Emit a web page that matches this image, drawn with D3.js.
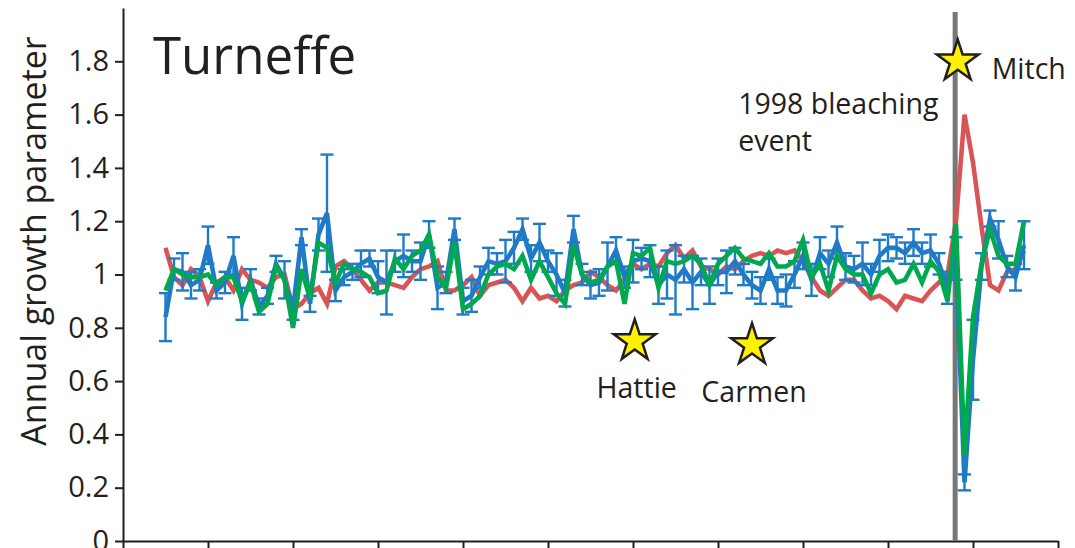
<!DOCTYPE html>
<html>
<head>
<meta charset="utf-8">
<script src="https://cdn.jsdelivr.net/npm/d3@7"></script>
<style>
  html, body { margin: 0; padding: 0; background: #fff; }
  svg { display: block; font-family: "Open Sans", sans-serif; }
  .axis path, .axis line { stroke: #231f20; stroke-width: 2; }
  .axis text { font-size: 29px; fill: #231f20; font-family: "Open Sans", sans-serif; }
  .series { fill: none; stroke-width: 4.6; stroke-linejoin: miter; }
  .note { font-size: 28.5px; fill: #231f20; }
</style>
</head>
<body>
<svg id="chart" width="1075" height="548"></svg>
<script>
/* ---------- data ---------- */
const firstYear = 1905, lastYear = 2006;
const years = d3.range(firstYear, lastYear + 1);

const xTicks = [1900, 1910, 1920, 1930, 1940, 1950, 1960, 1970, 1980, 1990, 2000, 2010];
const yTicks = [0, 0.2, 0.4, 0.6, 0.8, 1, 1.2, 1.4, 1.6, 1.8];

// red series
const redVals = [
  1.10, 0.99, 0.96, 1.02, 0.99, 0.90, 0.97, 0.99, 0.94, 1.02,
  0.98, 0.97, 0.95, 0.99, 1.00, 0.87, 0.89, 0.93, 0.95, 0.89,
  1.03, 1.05, 1.02, 0.98, 0.94, 0.97, 0.97, 0.96, 0.95, 0.99,
  1.02, 1.03, 1.05, 0.94, 0.94, 0.96, 0.99, 0.92, 0.96, 0.97,
  0.98, 0.95, 0.90, 0.95, 0.91, 0.92, 0.90, 0.94, 0.96, 0.97,
  1.01, 0.99, 0.96, 0.94, 0.98, 1.04, 1.02, 1.04, 1.03, 1.08,
  1.11, 1.06, 1.09, 1.03, 1.02, 1.00, 1.03, 1.02, 1.05, 1.07,
  1.08, 1.07, 1.09, 1.08, 1.09, 1.05, 0.99, 0.94, 0.92, 0.95,
  0.98, 0.98, 0.94, 0.91, 0.92, 0.90, 0.87, 0.92, 0.91, 0.90,
  0.94, 0.97, 1.00, 1.20, 1.60, 1.42, 1.18, 0.96, 0.94, 1.01,
  1.02, 1.09
];

// blue series (mean) and its error half-width
const blueVals = [
  0.84, 1.02, 1.01, 0.96, 0.98, 1.11, 0.94, 0.97, 1.07, 0.89,
  0.98, 0.88, 0.92, 1.04, 0.98, 0.87, 1.14, 0.89, 1.15, 1.23,
  0.94, 0.99, 1.01, 1.04, 1.06, 0.99, 0.97, 1.05, 1.07, 1.05,
  1.05, 1.15, 0.95, 0.97, 1.17, 0.90, 0.92, 0.99, 1.05, 1.04,
  1.05, 1.10, 1.17, 1.06, 1.12, 1.05, 1.00, 0.93, 1.17, 1.00,
  0.96, 0.97, 1.03, 1.09, 0.99, 1.05, 1.06, 1.05, 0.96, 1.00,
  0.98, 1.02, 0.97, 1.01, 0.96, 1.01, 1.01, 1.05, 1.00, 0.96,
  0.94, 1.02, 0.94, 0.94, 1.00, 1.07, 0.98, 1.08, 1.04, 1.12,
  1.03, 1.02, 1.04, 1.00, 1.07, 1.10, 1.10, 1.08, 1.12, 1.08,
  1.09, 1.04, 0.95, 1.06, 0.22, 0.68, 1.03, 1.21, 1.13, 1.03,
  0.99, 1.11
];
const blueErr = [
  0.09, 0.04, 0.07, 0.05, 0.04, 0.07, 0.03, 0.04, 0.07, 0.06,
  0.04, 0.03, 0.03, 0.03, 0.07, 0.04, 0.03, 0.03, 0.06, 0.22,
  0.04, 0.03, 0.03, 0.05, 0.03, 0.06, 0.12, 0.04, 0.08, 0.04,
  0.07, 0.05, 0.08, 0.04, 0.04, 0.05, 0.06, 0.04, 0.05, 0.04,
  0.08, 0.06, 0.04, 0.05, 0.07, 0.04, 0.08, 0.05, 0.05, 0.04,
  0.05, 0.05, 0.09, 0.05, 0.04, 0.08, 0.04, 0.06, 0.07, 0.09,
  0.13, 0.05, 0.10, 0.05, 0.07, 0.05, 0.08, 0.05, 0.04, 0.05,
  0.05, 0.04, 0.05, 0.06, 0.05, 0.05, 0.06, 0.06, 0.05, 0.06,
  0.05, 0.05, 0.08, 0.04, 0.06, 0.05, 0.04, 0.04, 0.05, 0.04,
  0.06, 0.04, 0.06, 0.08, 0.03, 0.15, 0.05, 0.03, 0.07, 0.04,
  0.05, 0.09
];

// green series
const greenVals = [
  0.94, 1.02, 1.00, 0.99, 0.99, 1.00, 0.96, 0.99, 0.99, 0.90,
  0.97, 0.86, 0.89, 1.03, 0.98, 0.80, 1.02, 0.91, 1.12, 1.10,
  0.97, 1.04, 1.02, 1.01, 0.99, 0.93, 0.94, 1.06, 1.02, 1.07,
  1.09, 1.15, 0.99, 0.95, 1.12, 0.87, 0.89, 0.92, 1.00, 1.03,
  1.04, 1.02, 1.07, 0.98, 1.05, 0.99, 0.93, 0.89, 1.11, 1.00,
  0.97, 0.98, 1.03, 1.05, 0.89, 1.08, 1.07, 1.10, 0.95, 1.05,
  1.04, 1.05, 1.07, 1.04, 0.96, 1.04, 1.07, 1.10, 1.06, 1.05,
  1.04, 1.08, 1.03, 1.03, 1.05, 1.13, 0.99, 1.04, 0.94, 1.07,
  1.02, 1.00, 1.00, 0.93, 1.00, 1.02, 0.97, 0.98, 1.04, 0.97,
  1.05, 1.01, 0.90, 1.19, 0.32, 0.84, 1.04, 1.17, 1.07, 1.04,
  1.04, 1.20
];

// annotations
const bleachYear = 1997.9;
const stormNames = ["Hattie", "Carmen", "Mitch"];
const stormYears = [1960.2, 1974, 1998.2];
const stormLevels = [0.75, 0.735, 1.80];

/* ---------- scales & axes ---------- */
const svg = d3.select("#chart");
const xScale = d3.scaleLinear().domain([1900, 2010]).range([123, 1058]);
const yScale = d3.scaleLinear().domain([0, 2]).range([541, 8]);

svg.append("g").attr("class", "axis x-axis")
  .attr("transform", `translate(0,${yScale(0)})`)
  .call(d3.axisBottom(xScale).tickValues(xTicks).tickFormat("").tickSize(8).tickSizeOuter(0));

svg.append("g").attr("class", "axis y-axis")
  .attr("transform", `translate(${xScale(1900)},0)`)
  .call(d3.axisLeft(yScale).tickValues(yTicks).tickSize(8).tickPadding(6).tickSizeOuter(0)
    .tickFormat(d => (d === 0 || d === 1) ? String(d) : d.toFixed(1)));

svg.append("text").attr("class", "axis-label")
  .attr("transform", "rotate(-90)")
  .attr("x", -241).attr("y", 46)
  .attr("text-anchor", "middle")
  .attr("font-size", 34).attr("fill", "#231f20")
  .text("Annual growth parameter");

svg.append("text")
  .attr("x", 153).attr("y", 74)
  .attr("font-size", 51).attr("fill", "#231f20")
  .text("Turneffe");

/* ---------- bleaching line ---------- */
svg.append("line")
  .attr("x1", xScale(bleachYear)).attr("x2", xScale(bleachYear))
  .attr("y1", 12).attr("y2", yScale(0))
  .attr("stroke", "#777").attr("stroke-width", 5);

svg.append("text").attr("class", "note")
  .attr("x", xScale(bleachYear) - 217).attr("y", 114).text("1998 bleaching");
svg.append("text").attr("class", "note")
  .attr("x", xScale(bleachYear) - 217).attr("y", 151).text("event");

/* ---------- series ---------- */
const line = d3.line().x((d, i) => xScale(years[i])).y(d => yScale(d));

svg.append("path").datum(redVals).attr("class", "series")
  .attr("stroke", "#d95555").attr("d", line);

const eb = svg.append("g").attr("stroke", "#1f7bc6").attr("stroke-width", 2.4);
years.forEach((yr, i) => {
  const x = xScale(yr), lo = yScale(blueVals[i] - blueErr[i]), hi = yScale(blueVals[i] + blueErr[i]);
  eb.append("line").attr("x1", x).attr("x2", x).attr("y1", lo).attr("y2", hi);
  eb.append("line").attr("x1", x - 6.5).attr("x2", x + 6.5).attr("y1", lo).attr("y2", lo);
  eb.append("line").attr("x1", x - 6.5).attr("x2", x + 6.5).attr("y1", hi).attr("y2", hi);
});

svg.append("path").datum(blueVals).attr("class", "series")
  .attr("stroke", "#1f7bc6").attr("d", line);

svg.append("path").datum(greenVals).attr("class", "series")
  .attr("stroke", "#00a94f").attr("d", line);

/* ---------- storm stars ---------- */
const star = d3.symbol().type(d3.symbolStar).size(540);
stormNames.forEach((name, i) => {
  const sx = xScale(stormYears[i]), sy = yScale(stormLevels[i]);
  svg.append("path").attr("d", star())
    .attr("transform", `translate(${sx},${sy})`)
    .attr("fill", "#fff200").attr("stroke", "#231f20").attr("stroke-width", 2.5);
  if (name === "Mitch") {
    svg.append("text").attr("class", "note").attr("x", sx + 34).attr("y", sy + 18).text(name);
  } else {
    svg.append("text").attr("class", "note").attr("text-anchor", "middle")
      .attr("x", sx + 2).attr("y", sy + 57).text(name);
  }
});
</script>
</body>
</html>
